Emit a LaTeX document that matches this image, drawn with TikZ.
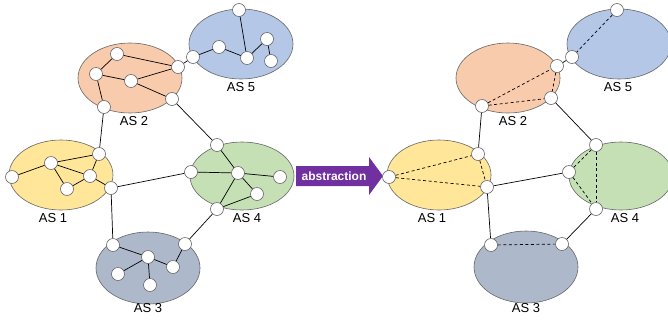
\documentclass[tikz,border=0pt]{standalone}
\usepackage{fontspec}
\setmainfont{Liberation Sans}
\usetikzlibrary{shapes.geometric}
\definecolor{cOr}{HTML}{F8CBAD}
\definecolor{cBl}{HTML}{B4C7E7}
\definecolor{cYe}{HTML}{FFE699}
\definecolor{cGr}{HTML}{C5E0B4}
\definecolor{cGy}{HTML}{ADB9CA}
\definecolor{cPu}{HTML}{7030A0}
\definecolor{cLn}{HTML}{666666}
\tikzset{
  asbox/.style={ellipse, draw=cLn, line width=0.6pt, minimum width=104pt, minimum height=70pt, inner sep=0pt},
  rt/.style={circle, draw=cLn, line width=0.6pt, fill=white, minimum size=13pt, inner sep=0pt},
  lbl/.style={font=\fontsize{13}{15}\selectfont, inner sep=0pt},
  ln/.style={line width=0.7pt, black},
  dl/.style={line width=0.7pt, black, dash pattern=on 3pt off 2.5pt},
}
\begin{document}
\begin{tikzpicture}[x=1pt,y=-1pt]
\clip (0,0) rectangle (668,322);
\fill[white] (0,0) rectangle (668,322);
% ---------- left: full topology ----------
\node[asbox, fill=cOr] (L2) at (130,78) {};
\node[asbox, fill=cBl] (L5) at (241,44) {};
\node[asbox, fill=cYe] (L1) at (61,175) {};
\node[asbox, fill=cGr, minimum height=68pt] (L4) at (242,176) {};
\node[asbox, fill=cGy, minimum height=72pt] (L3) at (148,268) {};
\node[lbl] (tL2) at (134,121) {AS 2};
\node[lbl] (tL5) at (241,87) {AS 5};
\node[lbl] (tL1) at (53,218) {AS 1};
\node[lbl] (tL4) at (247,218) {AS 4};
\node[lbl] (tL3) at (148,308) {AS 3};
% AS5
\node[rt] (a5a) at (239,10) {};
\node[rt] (a5b) at (219,47) {};
\node[rt] (a5c) at (267,39) {};
\node[rt] (a5d) at (247,58) {};
\node[rt] (a5e) at (271,61) {};
\node[rt] (a5f) at (193,57) {};
% AS2
\node[rt] (a2a) at (117,54) {};
\node[rt] (a2b) at (96,74) {};
\node[rt] (a2c) at (131,81) {};
\node[rt] (a2d) at (178,67) {};
\node[rt] (a2e) at (172,99) {};
\node[rt] (a2f) at (104,107) {};
% AS1
\node[rt] (a1a) at (12,177) {};
\node[rt] (a1b) at (51,163) {};
\node[rt] (a1c) at (99,154) {};
\node[rt] (a1d) at (90,176) {};
\node[rt] (a1e) at (67,189) {};
\node[rt] (a1f) at (111,188) {};
% AS4
\node[rt] (a4a) at (217,145) {};
\node[rt] (a4b) at (191,172) {};
\node[rt] (a4c) at (238,173) {};
\node[rt] (a4d) at (280,177) {};
\node[rt] (a4e) at (257,194) {};
\node[rt] (a4f) at (217,209) {};
% AS3
\node[rt] (a3a) at (113,245) {};
\node[rt] (a3b) at (185,244) {};
\node[rt] (a3c) at (148,257) {};
\node[rt] (a3d) at (173,267) {};
\node[rt] (a3e) at (118,274) {};
\node[rt] (a3f) at (150,285) {};
% edges
\draw[ln] (a5a) -- (a5d);
\draw[ln] (a5f) -- (a5b);
\draw[ln] (a5b) -- (a5d);
\draw[ln] (a5d) -- (a5c);
\draw[ln] (a5c) -- (a5e);
\draw[ln] (a2d) -- (a5f);
\draw[ln] (a2a) -- (a2d);
\draw[ln] (a2b) -- (a2a);
\draw[ln] (a2b) -- (a2c);
\draw[ln] (a2c) -- (a2d);
\draw[ln] (a2c) -- (a2e);
\draw[ln] (a2b) -- (a2f);
\draw[ln] (a2f) -- (a1c);
\draw[ln] (a2e) -- (a4a);
\draw[ln] (a1a) -- (a1b);
\draw[ln] (a1b) -- (a1c);
\draw[ln] (a1b) -- (a1e);
\draw[ln] (a1b) -- (a1d);
\draw[ln] (a1e) -- (a1d);
\draw[ln] (a1c) -- (a1d);
\draw[ln] (a1d) -- (a1f);
\draw[ln] (a1f) -- (a4b);
\draw[ln] (a1f) -- (a3a);
\draw[ln] (a4a) -- (a4c);
\draw[ln] (a4b) -- (a4c);
\draw[ln] (a4c) -- (a4d);
\draw[ln] (a4c) -- (a4e);
\draw[ln] (a4c) -- (a4f);
\draw[ln] (a4f) -- (a4e);
\draw[ln] (a4f) -- (a3b);
\draw[ln] (a3a) -- (a3c);
\draw[ln] (a3c) -- (a3d);
\draw[ln] (a3d) -- (a3b);
\draw[ln] (a3c) -- (a3e);
\draw[ln] (a3c) -- (a3f);
% ---------- arrow ----------
\fill[cPu] (296,166) -- (369,166) -- (369,157) -- (383,176) -- (369,195) -- (369,186) -- (296,186) -- cycle;
\node[font=\fontsize{12}{14}\selectfont\bfseries, text=white, inner sep=0pt] (abs) at (334,176) {abstraction};
% ---------- right: abstracted ----------
\node[asbox, fill=cOr] (R2) at (508,78) {};
\node[asbox, fill=cBl] (R5) at (619,44) {};
\node[asbox, fill=cYe] (R1) at (439,175) {};
\node[asbox, fill=cGr, minimum height=68pt] (R4) at (621,176) {};
\node[asbox, fill=cGy, minimum height=72pt] (R3) at (526,267) {};
\node[lbl] (tR2) at (513,121) {AS 2};
\node[lbl] (tR5) at (618,87) {AS 5};
\node[lbl] (tR1) at (432,218) {AS 1};
\node[lbl] (tR4) at (625,218) {AS 4};
\node[lbl] (tR3) at (526,308) {AS 3};
\node[rt] (b5a) at (617,10) {};
\node[rt] (b5b) at (572,57) {};
\node[rt] (b2a) at (557,66) {};
\node[rt] (b2b) at (551,98) {};
\node[rt] (b2c) at (482,106) {};
\node[rt] (b1a) at (389,177) {};
\node[rt] (b1b) at (478,154) {};
\node[rt] (b1c) at (487,187) {};
\node[rt] (b4a) at (596,145) {};
\node[rt] (b4b) at (569,172) {};
\node[rt] (b4c) at (596,209) {};
\node[rt] (b3a) at (491,245) {};
\node[rt] (b3b) at (562,244) {};
\draw[dl] (b5a) -- (b5b);
\draw[dl] (b2c) -- (b2a);
\draw[dl] (b2c) -- (b2b);
\draw[dl] (b2a) -- (b2b);
\draw[dl] (b1a) -- (b1b);
\draw[dl] (b1a) -- (b1c);
\draw[dl] (b1b) -- (b1c);
\draw[dl] (b4a) -- (b4c);
\draw[dl] (b4b) -- (b4c);
\draw[dl] (b4b) -- (b4a);
\draw[dl] (b3a) -- (b3b);
\draw[ln] (b2a) -- (b5b);
\draw[ln] (b2b) -- (b4a);
\draw[ln] (b2c) -- (b1b);
\draw[ln] (b1c) -- (b4b);
\draw[ln] (b1c) -- (b3a);
\draw[ln] (b4c) -- (b3b);
\end{tikzpicture}
\end{document}
